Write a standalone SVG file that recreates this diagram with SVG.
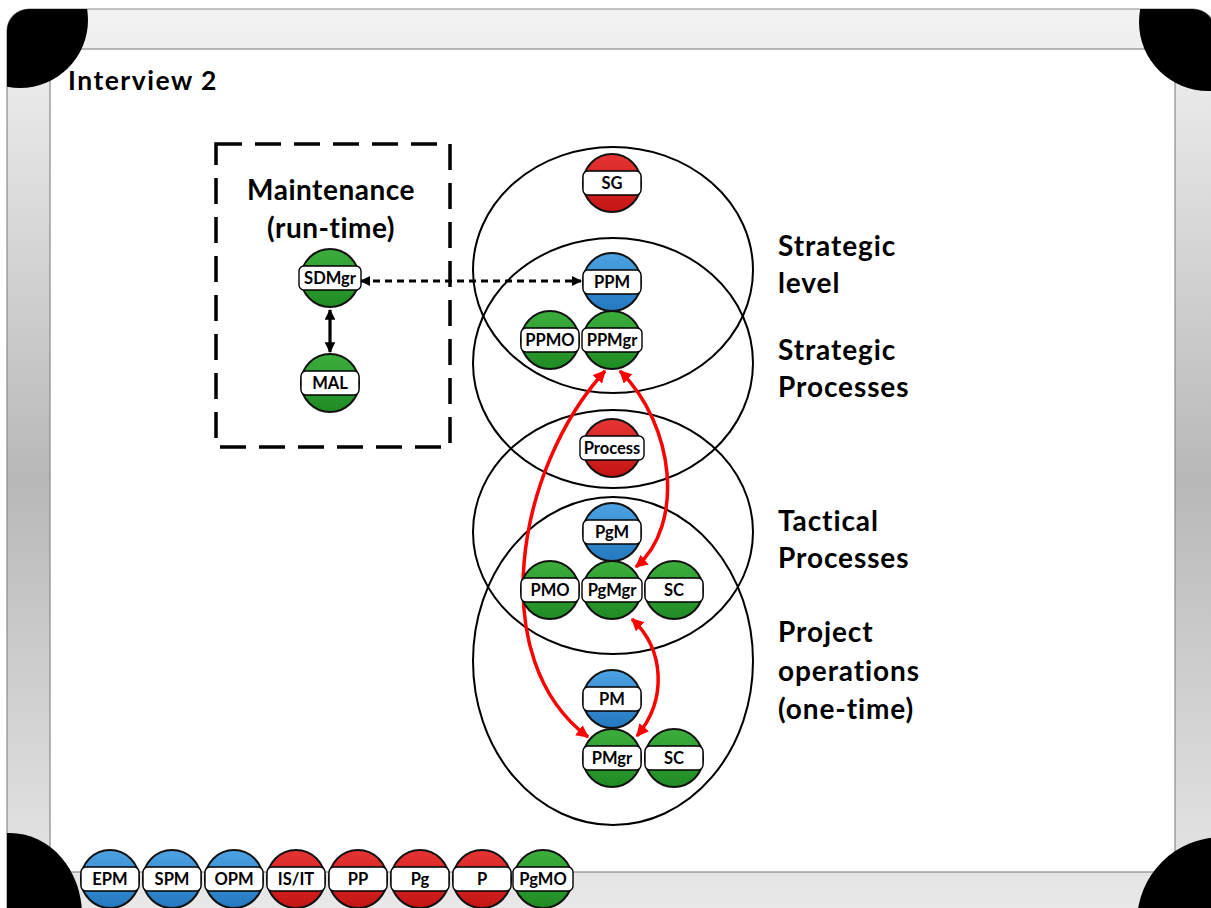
<svg xmlns="http://www.w3.org/2000/svg" width="1211" height="908" viewBox="0 0 1211 908">
  <defs>
    <linearGradient id="frameGrad" x1="0" y1="0" x2="0" y2="1">
      <stop offset="0" stop-color="#f3f3f3"/>
      <stop offset="0.5" stop-color="#b8b8b8"/>
      <stop offset="1" stop-color="#ededed"/>
    </linearGradient>
    <linearGradient id="gBlue" x1="0" y1="0" x2="0" y2="1">
      <stop offset="0" stop-color="#4ca2e2"/>
      <stop offset="1" stop-color="#2478bf"/>
    </linearGradient>
    <linearGradient id="gRed" x1="0" y1="0" x2="0" y2="1">
      <stop offset="0" stop-color="#e63434"/>
      <stop offset="1" stop-color="#c41414"/>
    </linearGradient>
    <linearGradient id="gGreen" x1="0" y1="0" x2="0" y2="1">
      <stop offset="0" stop-color="#3cae3c"/>
      <stop offset="1" stop-color="#1f8c24"/>
    </linearGradient>
    <clipPath id="frameClip">
      <rect x="7" y="9" width="1208" height="940" rx="22"/>
    </clipPath>
    <marker id="headRed" viewBox="0 0 10 10" refX="9" refY="5" markerWidth="3.6" markerHeight="3.6" orient="auto-start-reverse">
      <path d="M0,0 L10,5 L0,10 Z" fill="#ff0000"/>
    </marker>
    <marker id="headBlack" viewBox="0 0 10 10" refX="9" refY="5" markerWidth="3.4" markerHeight="3.4" orient="auto-start-reverse">
      <path d="M0,0 L10,5 L0,10 Z" fill="#000"/>
    </marker>
    <style>
      text { font-family: Lato, "Liberation Sans", sans-serif; font-weight: bold; fill: #000; }
      .lbl { font-size: 16.5px; text-anchor: middle; }
      .big { font-size: 28px; letter-spacing: 0.9px; }
      .mid { text-anchor: middle; }
      .band { fill: #fff; stroke: #000; stroke-width: 1.4; }
      .dot { stroke: #111; stroke-width: 2; }
      .blue { fill: url(#gBlue); }
      .red { fill: url(#gRed); }
      .green { fill: url(#gGreen); }
      .scope { fill: none; stroke: #000; stroke-width: 2; }
      .redArrow { fill: none; stroke: #ff0000; stroke-width: 3.5; marker-start: url(#headRed); marker-end: url(#headRed); }
    </style>
  </defs>

  <!-- slide frame -->
  <g id="frame">
    <rect x="7" y="9" width="1208" height="940" rx="22" fill="url(#frameGrad)" stroke="#8a8a8a" stroke-width="1.2"/>
    <rect x="50" y="49" width="1125" height="823" fill="#fff" stroke="#8a8a8a" stroke-width="1.2"/>
    <g clip-path="url(#frameClip)" fill="#000">
      <circle cx="20" cy="20" r="68"/>
      <circle cx="1208" cy="22" r="69"/>
      <ellipse cx="10" cy="915" rx="72" ry="82"/>
      <circle cx="1222" cy="922" r="85"/>
    </g>
  </g>

  <text id="title" x="68" y="90" style="font-size:26.5px;letter-spacing:1.5px">Interview 2</text>

  <!-- maintenance scope -->
  <g id="maintenance">
    <rect x="216" y="144" width="234" height="303" fill="none" stroke="#000" stroke-width="3.5" stroke-dasharray="26 13"/>
    <text class="big mid" x="331" y="200" style="letter-spacing:0.5px">Maintenance</text>
    <text class="big mid" x="331" y="238" style="letter-spacing:0.5px">(run-time)</text>
  </g>

  <!-- organisational levels -->
  <g id="levels">
    <ellipse class="scope" cx="613" cy="270" rx="140" ry="123"/>
    <ellipse class="scope" cx="613" cy="363" rx="140" ry="125"/>
    <ellipse class="scope" cx="613" cy="532" rx="140" ry="122"/>
    <ellipse class="scope" cx="613" cy="661" rx="140" ry="164"/>
  </g>

  <g id="level-labels">
    <text class="big" x="778" y="256">Strategic</text>
    <text class="big" x="778" y="293">level</text>
    <text class="big" x="778" y="360">Strategic</text>
    <text class="big" x="778" y="397">Processes</text>
    <text class="big" x="778" y="531">Tactical</text>
    <text class="big" x="778" y="568">Processes</text>
    <text class="big" x="778" y="642">Project</text>
    <text class="big" x="778" y="681">operations</text>
    <text class="big" x="778" y="719">(one-time)</text>
  </g>

  <!-- connectors -->
  <g id="connectors">
    <line x1="361" y1="281" x2="581" y2="281" stroke="#000" stroke-width="3" stroke-dasharray="7 5" marker-start="url(#headBlack)" marker-end="url(#headBlack)"/>
    <line x1="330" y1="310" x2="330" y2="352" stroke="#000" stroke-width="3.2" marker-start="url(#headBlack)" marker-end="url(#headBlack)"/>
    <path class="redArrow" d="M605,371 C515,470 485,660 588,737"/>
    <path class="redArrow" d="M620,371 C675,425 685,525 636,567"/>
    <path class="redArrow" d="M632,619 C665,650 667,700 637,736"/>
  </g>

  <!-- role nodes -->
  <g id="n-sdmgr" transform="translate(330,278)">
    <circle r="29" class="dot green"/><rect x="-31" y="-12" width="62" height="24" rx="5" class="band"/><text class="lbl" y="6">SDMgr</text>
  </g>
  <g id="n-mal" transform="translate(330,383)">
    <circle r="29" class="dot green"/><rect x="-29" y="-12" width="58" height="24" rx="5" class="band"/><text class="lbl" y="6">MAL</text>
  </g>
  <g id="n-sg" transform="translate(612,183)">
    <circle r="29" class="dot red"/><rect x="-29" y="-12" width="58" height="24" rx="5" class="band"/><text class="lbl" y="6">SG</text>
  </g>
  <g id="n-ppm" transform="translate(612,282)">
    <circle r="29" class="dot blue"/><rect x="-29" y="-12" width="58" height="24" rx="5" class="band"/><text class="lbl" y="6">PPM</text>
  </g>
  <g id="n-ppmo" transform="translate(550,340)">
    <circle r="29" class="dot green"/><rect x="-29" y="-12" width="58" height="24" rx="5" class="band"/><text class="lbl" y="6">PPMO</text>
  </g>
  <g id="n-ppmgr" transform="translate(612,340)">
    <circle r="29" class="dot green"/><rect x="-30" y="-12" width="60" height="24" rx="5" class="band"/><text class="lbl" y="6">PPMgr</text>
  </g>
  <g id="n-process" transform="translate(612,448)">
    <circle r="29" class="dot red"/><rect x="-32" y="-12" width="64" height="24" rx="5" class="band"/><text class="lbl" y="6">Process</text>
  </g>
  <g id="n-pgm" transform="translate(612,532)">
    <circle r="29" class="dot blue"/><rect x="-29" y="-12" width="58" height="24" rx="5" class="band"/><text class="lbl" y="6">PgM</text>
  </g>
  <g id="n-pmo" transform="translate(550,590)">
    <circle r="29" class="dot green"/><rect x="-29" y="-12" width="58" height="24" rx="5" class="band"/><text class="lbl" y="6">PMO</text>
  </g>
  <g id="n-pgmgr" transform="translate(612,590)">
    <circle r="29" class="dot green"/><rect x="-30" y="-12" width="60" height="24" rx="5" class="band"/><text class="lbl" y="6">PgMgr</text>
  </g>
  <g id="n-sc-tactical" transform="translate(674,590)">
    <circle r="29" class="dot green"/><rect x="-29" y="-12" width="58" height="24" rx="5" class="band"/><text class="lbl" y="6">SC</text>
  </g>
  <g id="n-pm" transform="translate(612,699)">
    <circle r="29" class="dot blue"/><rect x="-29" y="-12" width="58" height="24" rx="5" class="band"/><text class="lbl" y="6">PM</text>
  </g>
  <g id="n-pmgr" transform="translate(612,758)">
    <circle r="29" class="dot green"/><rect x="-29" y="-12" width="58" height="24" rx="5" class="band"/><text class="lbl" y="6">PMgr</text>
  </g>
  <g id="n-sc-project" transform="translate(674,758)">
    <circle r="29" class="dot green"/><rect x="-29" y="-12" width="58" height="24" rx="5" class="band"/><text class="lbl" y="6">SC</text>
  </g>

  <!-- legend strip -->
  <g id="legend">
    <g id="lg-epm" transform="translate(110,879)">
      <circle r="29" class="dot blue"/><rect x="-29" y="-12" width="58" height="24" rx="5" class="band"/><text class="lbl" y="6">EPM</text>
    </g>
    <g id="lg-spm" transform="translate(172,879)">
      <circle r="29" class="dot blue"/><rect x="-29" y="-12" width="58" height="24" rx="5" class="band"/><text class="lbl" y="6">SPM</text>
    </g>
    <g id="lg-opm" transform="translate(234,879)">
      <circle r="29" class="dot blue"/><rect x="-29" y="-12" width="58" height="24" rx="5" class="band"/><text class="lbl" y="6">OPM</text>
    </g>
    <g id="lg-isit" transform="translate(296,879)">
      <circle r="29" class="dot red"/><rect x="-29" y="-12" width="58" height="24" rx="5" class="band"/><text class="lbl" y="6">IS/IT</text>
    </g>
    <g id="lg-pp" transform="translate(358,879)">
      <circle r="29" class="dot red"/><rect x="-29" y="-12" width="58" height="24" rx="5" class="band"/><text class="lbl" y="6">PP</text>
    </g>
    <g id="lg-pg" transform="translate(420,879)">
      <circle r="29" class="dot red"/><rect x="-29" y="-12" width="58" height="24" rx="5" class="band"/><text class="lbl" y="6">Pg</text>
    </g>
    <g id="lg-p" transform="translate(482,879)">
      <circle r="29" class="dot red"/><rect x="-29" y="-12" width="58" height="24" rx="5" class="band"/><text class="lbl" y="6">P</text>
    </g>
    <g id="lg-pgmo" transform="translate(543,879)">
      <circle r="29" class="dot green"/><rect x="-30" y="-12" width="60" height="24" rx="5" class="band"/><text class="lbl" y="6">PgMO</text>
    </g>
  </g>
</svg>
